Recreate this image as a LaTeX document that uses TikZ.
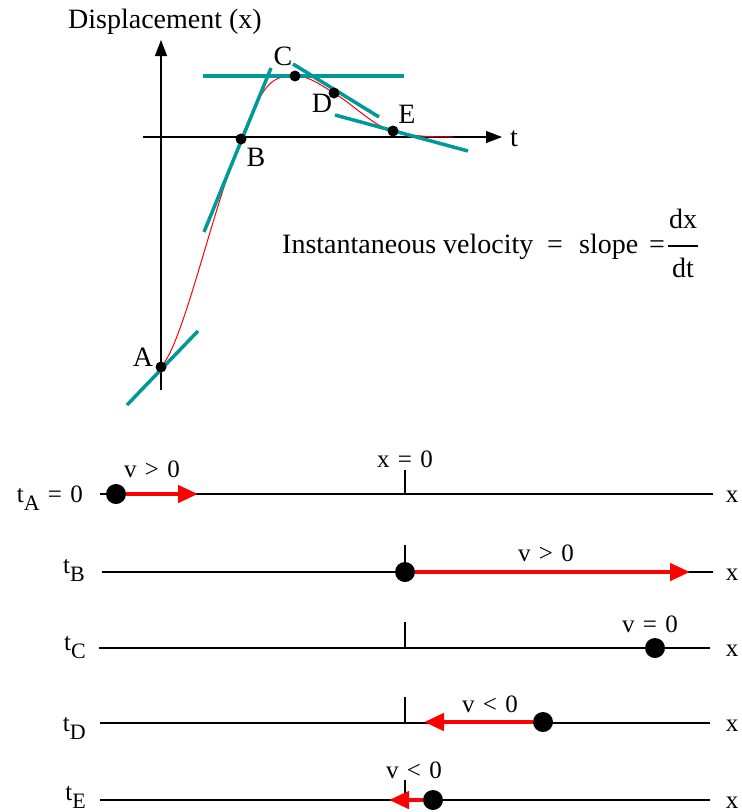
\documentclass[tikz,border=0pt]{standalone}
\usepackage{fontspec}
\setmainfont{Liberation Serif}
\usetikzlibrary{arrows.meta}
\definecolor{tealc}{RGB}{0,153,153}
\definecolor{redc}{RGB}{255,0,0}
\newcommand{\sbx}[1]{\raisebox{-8pt}{\fontsize{22}{22}\selectfont #1}}
\newcommand{\rsp}{\hspace{0.33em}}
\begin{document}
\begin{tikzpicture}[x=1pt,y=-1pt,
  big/.style={font=\fontsize{28}{31}\selectfont, inner sep=0pt},
  sml/.style={font=\fontsize{25}{29}\selectfont, inner sep=0pt},
  tang/.style={tealc, line width=3.5pt},
  axis/.style={line width=1.3pt, -{Triangle[length=16pt,width=12pt]}},
  gdot/.style={circle, fill=black, inner sep=0pt, minimum size=11pt},
  bdot/.style={circle, fill=black, inner sep=0pt, minimum size=20pt},
  numline/.style={line width=1.5pt},
  tickmark/.style={line width=1.3pt},
  vel/.style={redc, line width=4.5pt, -{Triangle[length=20pt,width=17pt]}},
]
\useasboundingbox (0,0) rectangle (742,812);

% ---------- graph ----------
\node[big, anchor=base west] (ylab) at (68,28) {Displacement (x)};
\coordinate (yax0) at (161,390);
\coordinate (yax1) at (161,40);
\coordinate (xax0) at (143,137);
\coordinate (xax1) at (502,137);
\draw[axis] (yax0) -- (yax1);
\draw[axis] (xax0) -- (xax1);
\node[big] (tlab) at (514,139) {t};

\coordinate (pA) at (161,367);
\coordinate (pB) at (241,139);
\coordinate (pC) at (295,76);
\coordinate (pD) at (334,93);
\coordinate (pE) at (393,131);
\coordinate (pF) at (453,137);

\draw[redc, line width=1pt] (pA) .. controls (183,344) and (211,214) .. (pB)
  .. controls (264,80) and (273,76) .. (pC)
  .. controls (310,76) and (322,86) .. (pD)
  .. controls (354,105) and (373,126) .. (pE)
  .. controls (413,136.5) and (430,137) .. (pF);

% tangents
\coordinate (ta1) at (127,405); \coordinate (ta2) at (198,331);
\coordinate (tb1) at (204,232); \coordinate (tb2) at (271,68);
\coordinate (tc1) at (203,76);  \coordinate (tc2) at (404,76);
\coordinate (td1) at (293,64);  \coordinate (td2) at (379,117);
\coordinate (te1) at (335,115); \coordinate (te2) at (468,151);
\draw[tang] (ta1) -- (ta2);
\draw[tang] (tb1) -- (tb2);
\draw[tang] (tc1) -- (tc2);
\draw[tang] (td1) -- (td2);
\draw[tang] (te1) -- (te2);

\node[gdot] (dA) at (pA) {};
\node[gdot] (dB) at (pB) {};
\node[gdot] (dC) at (pC) {};
\node[gdot] (dD) at (pD) {};
\node[gdot] (dE) at (pE) {};
\node[big] (lA) at (143,357) {A};
\node[big] (lB) at (256,157) {B};
\node[big] (lC) at (283,56) {C};
\node[big] (lD) at (322,103) {D};
\node[big] (lE) at (407,114) {E};

% formula
\node[big, anchor=base west] (iv) at (282,253) {Instantaneous velocity};
\node[big, anchor=base] (eq1) at (555,253) {=};
\node[big, anchor=base west] (slope) at (579,253) {slope};
\node[big, anchor=base] (eq2) at (657,253) {=};
\node[big, anchor=base] (dx) at (683,228) {dx};
\node[big, anchor=base] (dt) at (683,277) {dt};
\coordinate (fb1) at (668,246);
\coordinate (fb2) at (698,246);
\draw[line width=1.2pt] (fb1) -- (fb2);

% ---------- number lines ----------
% row A
\coordinate (LA0) at (100,494); \coordinate (LA1) at (713,494);
\coordinate (KA0) at (405,470); \coordinate (KA1) at (405,494);
\draw[numline] (LA0) -- (LA1);
\draw[tickmark] (KA0) -- (KA1);
\node[sml, anchor=base] (x0) at (405,467) {x\rsp=\rsp0};
\node[bdot] (bA) at (116,494) {};
\coordinate (vA) at (198,494);
\draw[vel] (bA) -- (vA);
\node[sml, anchor=base] (vlA) at (152,477) {v\rsp>\rsp0};
\node[sml, anchor=base east] (tA) at (83,502) {t\sbx{A}\rsp=\rsp0};
\node[sml, anchor=base] (xA) at (732,502) {x};

% row B
\coordinate (LB0) at (102,572); \coordinate (LB1) at (713,572);
\coordinate (KB0) at (405,545); \coordinate (KB1) at (405,572);
\draw[numline] (LB0) -- (LB1);
\draw[tickmark] (KB0) -- (KB1);
\node[bdot] (bB) at (405,572) {};
\coordinate (vB) at (690,572);
\draw[vel] (bB) -- (vB);
\node[sml, anchor=base] (vlB) at (546,561) {v\rsp>\rsp0};
\node[sml, anchor=base east] (tB) at (85,573) {t\sbx{B}};
\node[sml, anchor=base] (xB) at (732,580) {x};

% row C
\coordinate (LC0) at (99,648); \coordinate (LC1) at (710,648);
\coordinate (KC0) at (405,622); \coordinate (KC1) at (405,648);
\draw[numline] (LC0) -- (LC1);
\draw[tickmark] (KC0) -- (KC1);
\node[bdot] (bC) at (655,648) {};
\node[sml, anchor=base] (vlC) at (650,632) {v\rsp=\rsp0};
\node[sml, anchor=base east] (tC) at (86,650) {t\sbx{C}};
\node[sml, anchor=base] (xC) at (732,656) {x};

% row D
\coordinate (LD0) at (100,723); \coordinate (LD1) at (710,723);
\coordinate (KD0) at (405,697); \coordinate (KD1) at (405,723);
\draw[numline] (LD0) -- (LD1);
\draw[tickmark] (KD0) -- (KD1);
\node[bdot] (bD) at (543,722) {};
\coordinate (vD) at (424,722);
\draw[vel] (bD) -- (vD);
\node[sml, anchor=base] (vlD) at (490,712) {v\rsp<\rsp0};
\node[sml, anchor=base east] (tD) at (86,731) {t\sbx{D}};
\node[sml, anchor=base] (xD) at (732,731) {x};

% row E
\coordinate (LE0) at (100,800); \coordinate (LE1) at (710,800);
\coordinate (KE0) at (405,780); \coordinate (KE1) at (405,800);
\draw[numline] (LE0) -- (LE1);
\draw[tickmark] (KE0) -- (KE1);
\node[bdot] (bE) at (433,800) {};
\coordinate (vE) at (389,800);
\draw[vel] (bE) -- (vE);
\node[sml, anchor=base] (vlE) at (414,778) {v\rsp<\rsp0};
\node[sml, anchor=base east] (tE) at (86,800) {t\sbx{E}};
\node[sml, anchor=base] (xE) at (732,808) {x};
\end{tikzpicture}
\end{document}
